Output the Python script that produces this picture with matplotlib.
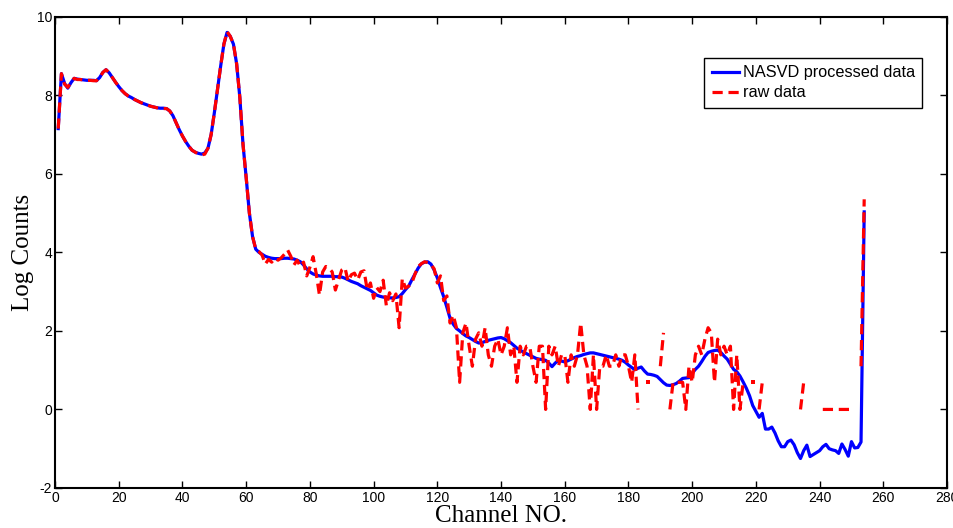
import numpy as np
import matplotlib
matplotlib.use("Agg")
import matplotlib.pyplot as plt

nan = np.nan

# channel numbers 1..254
channels = list(range(1, 255))

# NASVD processed spectrum (log counts)
nasvd = [
    7.15, 8.55, 8.30, 8.18, 8.32, 8.43, 8.41, 8.40, 8.39, 8.38,
    8.38, 8.38, 8.37, 8.45, 8.58, 8.65, 8.57, 8.45, 8.33, 8.22,
    8.12, 8.04, 7.98, 7.94, 7.89, 7.85, 7.81, 7.78, 7.75, 7.72,
    7.70, 7.68, 7.67, 7.67, 7.66, 7.60, 7.48, 7.30, 7.12, 6.96,
    6.82, 6.70, 6.60, 6.55, 6.52, 6.50, 6.53, 6.65, 7.00, 7.55,
    8.15, 8.75, 9.30, 9.60, 9.50, 9.30, 8.80, 7.95, 6.75, 5.90,
    5.00, 4.40, 4.08, 4.00, 3.95, 3.90, 3.87, 3.85, 3.84, 3.84,
    3.84, 3.85, 3.85, 3.84, 3.83, 3.80, 3.76, 3.68, 3.58, 3.50,
    3.45, 3.42, 3.40, 3.39, 3.39, 3.39, 3.39, 3.38, 3.38, 3.37,
    3.34, 3.30, 3.26, 3.23, 3.20, 3.15, 3.11, 3.07, 3.03, 2.97,
    2.91, 2.88, 2.86, 2.85, 2.84, 2.84, 2.85, 2.87, 2.95, 3.05,
    3.14, 3.30, 3.45, 3.60, 3.71, 3.75, 3.76, 3.70, 3.55, 3.35,
    3.10, 2.87, 2.60, 2.32, 2.17, 2.06, 2.00, 1.93, 1.87, 1.83,
    1.78, 1.73, 1.69, 1.70, 1.73, 1.76, 1.78, 1.80, 1.82, 1.83,
    1.80, 1.75, 1.70, 1.63, 1.56, 1.51, 1.46, 1.42, 1.38, 1.34,
    1.30, 1.28, 1.27, 1.25, 1.18, 1.09, 1.18, 1.25, 1.23, 1.21,
    1.24, 1.28, 1.32, 1.35, 1.37, 1.40, 1.42, 1.44, 1.44, 1.42,
    1.40, 1.38, 1.36, 1.34, 1.32, 1.30, 1.28, 1.25, 1.20, 1.13,
    1.07, 1.01, 1.05, 1.08, 0.98, 0.90, 0.89, 0.87, 0.84, 0.76,
    0.68, 0.62, 0.61, 0.63, 0.66, 0.72, 0.79, 0.80, 0.81, 0.92,
    1.02, 1.10, 1.22, 1.35, 1.45, 1.48, 1.50, 1.51, 1.45, 1.36,
    1.28, 1.15, 1.02, 0.96, 0.85, 0.70, 0.54, 0.35, 0.10, -0.05,
    -0.20, -0.10, -0.50, -0.50, -0.45, -0.60, -0.80, -0.95, -0.95, -0.82,
    -0.78, -0.90, -1.10, -1.25, -1.05, -0.91, -1.20, -1.15, -1.10, -1.05,
    -0.95, -0.89, -1.00, -1.03, -1.05, -1.12, -0.88, -1.02, -1.19, -0.82,
    -0.98, -0.97, -0.83, 5.03,
]

# raw spectrum (log counts, empty channels missing)
raw = [
    7.15, 8.55, 8.28, 8.20, 8.34, 8.43, 8.40, 8.40, 8.39, 8.38,
    8.38, 8.37, 8.37, 8.45, 8.58, 8.65, 8.57, 8.45, 8.33, 8.22,
    8.12, 8.04, 7.98, 7.94, 7.89, 7.85, 7.81, 7.78, 7.75, 7.72,
    7.70, 7.68, 7.66, 7.66, 7.66, 7.60, 7.48, 7.30, 7.12, 6.96,
    6.82, 6.70, 6.60, 6.55, 6.50, 6.48, 6.50, 6.65, 7.00, 7.55,
    8.15, 8.75, 9.30, 9.62, 9.50, 9.30, 8.80, 7.95, 6.75, 5.90,
    5.00, 4.40, 4.08, 4.02, 3.93, 3.70, 3.82, 3.75, 3.85, 3.80,
    3.86, 3.95, 4.06, 3.90, 3.68, 3.80, 3.64, 3.75, 3.40, 3.62,
    3.89, 3.45, 2.91, 3.50, 3.64, 3.60, 3.50, 3.04, 3.30, 3.55,
    3.61, 3.26, 3.43, 3.47, 3.30, 3.50, 3.53, 3.04, 3.22, 2.83,
    3.10, 3.00, 3.29, 2.64, 2.97, 2.77, 2.94, 2.08, 3.33, 3.09,
    3.14, 3.22, 3.45, 3.64, 3.71, 3.76, 3.74, 3.69, 3.58, 3.22,
    3.40, 2.77, 2.89, 2.20, 2.40, 2.08, 0.69, 1.95, 2.20, 1.61,
    1.10, 1.79, 1.95, 1.61, 2.08, 1.39, 1.10, 1.61, 1.79, 1.39,
    1.61, 2.08, 1.39, 1.61, 0.69, 1.61, 1.39, 1.61, 1.61, 1.10,
    0.69, 1.61, 1.61, 0.00, 1.61, 1.39, 1.61, 1.10, 1.39, 1.39,
    0.69, 1.39, 1.10, 1.39, 2.20, 1.39, 1.10, 0.00, 1.39, 0.00,
    1.10, 1.10, 1.39, 1.10, 1.10, 1.39, 1.10, 1.39, 1.39, 1.10,
    0.69, 1.39, 0.00, nan, nan, 0.69, nan, nan, nan, 1.10,
    1.95, nan, 0.00, 0.69, 0.69, 0.69, 0.69, 0.00, 1.10, 0.69,
    1.39, 1.61, 1.39, 1.79, 2.08, 1.95, 0.69, 1.79, 1.39, 1.61,
    1.39, 1.61, 0.00, 1.39, 0.00, 0.69, nan, nan, 0.69, nan,
    0.00, 0.69, nan, nan, nan, nan, nan, nan, nan, nan,
    nan, nan, nan, 0.00, 0.69, nan, nan, nan, nan, nan,
    0.00, 0.00, 0.00, 0.00, 0.00, 0.00, 0.00, 0.00, 0.00, 0.00,
    0.00, nan, 1.10, 5.35,
]

plt.rcParams['axes.unicode_minus'] = False

x = np.array(channels)
raw_arr = np.array(raw)

fig = plt.figure(figsize=(9.54, 5.28), dpi=100)
ax = fig.add_axes([0.0577, 0.0758, 0.935, 0.8926])

ax.plot(x, nasvd, color='#0000ff', lw=2.3, label='NASVD processed data')
ax.plot(x, raw_arr, color='#ff0000', lw=2.3, linestyle=(0, (3.2, 1.8)), label='raw data')

# single channels between empty ones still show up as short marks
prev = np.r_[nan, raw_arr[:-1]]
nxt = np.r_[raw_arr[1:], nan]
lone = ~np.isnan(raw_arr) & np.isnan(prev) & np.isnan(nxt)
ax.plot(x[lone], raw_arr[lone], 's', color='#ff0000', ms=2.5, mew=0)

ax.set_xlim(0, 280)
ax.set_ylim(-2, 10)
ax.set_xticks(range(0, 281, 20))
ax.set_yticks(range(-2, 11, 2))
ax.tick_params(direction='in', top=True, right=True, length=5, width=1,
               labelsize=10, pad=2)
for lab in ax.get_xticklabels() + ax.get_yticklabels():
    lab.set_family(['Liberation Sans Narrow', 'Liberation Sans'])
for s in ax.spines.values():
    s.set_linewidth(1.5)

ax.set_xlabel('Channel NO.', family='Liberation Serif', fontsize=18, labelpad=0)
ax.set_ylabel('Log Counts', family='Liberation Serif', fontsize=18, labelpad=2)

leg = ax.legend(loc='upper right', bbox_to_anchor=(0.972, 0.912), borderaxespad=0,
                fancybox=False, framealpha=1, edgecolor='black', handlelength=1.7,
                borderpad=0.45, labelspacing=0.3, handletextpad=0.2,
                prop={'family': 'Liberation Sans', 'size': 11.7})
leg.get_frame().set_linewidth(1.0)

fig.savefig('out.png', dpi=100)
